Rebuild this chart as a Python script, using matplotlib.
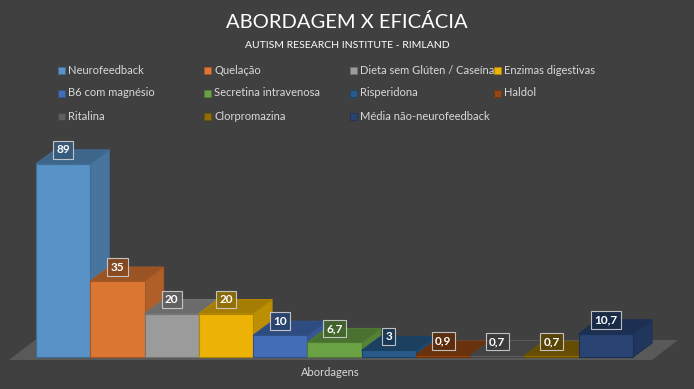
import numpy as np
import matplotlib.pyplot as plt
from matplotlib.patches import Polygon
from matplotlib.colors import to_rgb


##DATA##########################################################################
abordagens = ['Neurofeedback', 'Quelação', 'Dieta sem Glúten / Caseína', 'Enzimas digestivas',
              'B6 com magnésio', 'Secretina intravenosa', 'Risperidona', 'Haldol',
              'Ritalina', 'Clorpromazina', 'Média não-neurofeedback']
eficacia = [89, 35, 20, 20, 10, 6.7, 3, 0.9, 0.7, 0.7, 10.7]
rotulos = ['89', '35', '20', '20', '10', '6,7', '3', '0,9', '0,7', '0,7', '10,7']
cores = ['#5B9BD5', '#ED7D31', '#A5A5A5', '#FFC000', '#4472C4', '#70AD47',
         '#255E91', '#9E480E', '#636363', '#997300', '#264478']
################################################################################

bg = '#404040'
plt.rcParams['font.family'] = ['Lato', 'DejaVu Sans']


def shade(c, f):
    return tuple(np.array(to_rgb(c)) * f)


def blend(c, a=0.9):
    # bars are slightly see-through on the dark background
    return tuple(np.array(to_rgb(c)) * a + np.array(to_rgb(bg)) * (1 - a))


fig = plt.figure(figsize=(6.94, 3.89), dpi=100)
fig.patch.set_facecolor(bg)
ax = fig.add_axes([0, 0, 1, 1])
ax.set_facecolor(bg)
ax.axis('off')

# pixel scale: 54.27 px per bar, 2.17 px per unit
px_x = 54.27
px_y = 2.17
x0 = -0.5 - 36 / px_x
ax.set_xlim(x0, x0 + 694 / px_x)
ax.set_ylim(-32 / px_y, 357 / px_y)

dx = 19 / px_x
dy = 14 / px_y

# floor
fdx, fdy = 26 / px_x, 20 / px_y
fl, fr, fb = x0 + 9 / px_x, x0 + 652 / px_x, -3 / px_y
ax.add_patch(Polygon([(fl, fb), (fr, fb), (fr + fdx, fb + fdy), (fl + fdx, fb + fdy)],
                     closed=True, facecolor='#595959', edgecolor='none', zorder=1))

for i, (v, c, lab) in enumerate(zip(eficacia, cores, rotulos)):
    l, r = i - 0.5, i + 0.5
    cf = blend(c)
    edge = shade(c, 0.7)
    side = [(r, 0), (r + dx, dy), (r + dx, v + dy), (r, v)]
    top = [(l, v), (r, v), (r + dx, v + dy), (l + dx, v + dy)]
    ax.add_patch(Polygon(side, closed=True, facecolor=shade(cf, 0.8), edgecolor=edge,
                         linewidth=0.8, zorder=2 + i))
    ax.add_patch(Polygon(top, closed=True, facecolor=shade(cf, 0.7), edgecolor=edge,
                         linewidth=0.8, zorder=2 + i))
    ax.bar(i, v, width=1, color=cf, edgecolor=edge, linewidth=0.8, zorder=2 + i)
    ax.text(i, v + dy, lab, ha='center', va='center', color='white', fontsize=8.5,
            fontweight='bold', zorder=30,
            bbox=dict(boxstyle='square,pad=0.28', facecolor=shade(cf, 0.62),
                      edgecolor='#d0d0d0', linewidth=0.8, alpha=0.9))

ax.text(330 / px_x + x0, -16 / px_y, 'Abordagens', ha='center', va='center',
        color='#d9d9d9', fontsize=8)

# titles
fig.text(0.5, 1 - 22 / 389, 'ABORDAGEM X EFICÁCIA', ha='center', va='center',
         color='white', fontsize=14.5)
fig.text(0.5, 1 - 45 / 389, 'AUTISM RESEARCH INSTITUTE - RIMLAND', ha='center',
         va='center', color='white', fontsize=7.5)

# legend
col_x = [58, 204, 350, 494]
row_y = [70, 93, 116]
for k, (nome, c) in enumerate(zip(abordagens, cores)):
    cx = col_x[k % 4]
    cy = row_y[k // 4]
    fig.patches.append(plt.Rectangle((cx / 694, 1 - (cy + 3.5) / 389), 7 / 694, 7 / 389,
                                     transform=fig.transFigure, facecolor=blend(c),
                                     edgecolor=shade(c, 0.7), linewidth=0.5))
    fig.text((cx + 10) / 694, 1 - cy / 389, nome, ha='left', va='center',
             color='#d9d9d9', fontsize=8)

plt.savefig('out.png', dpi=100, facecolor=bg)
